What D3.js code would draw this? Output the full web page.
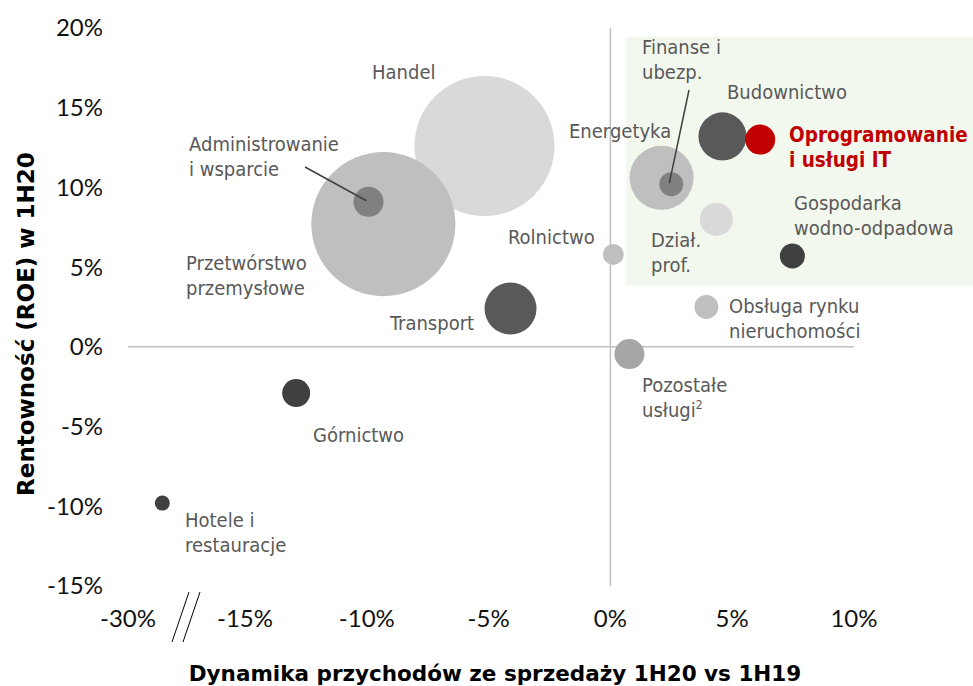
<!DOCTYPE html>
<html>
<head>
<meta charset="utf-8">
<script src="https://cdn.jsdelivr.net/npm/d3@7"></script>
<style>
  body { margin: 0; background: #fff; }
  .tick-label { font-family: Lato, "Open Sans", sans-serif; font-size: 24px; fill: #111; }
  .lbl { font-family: "DejaVu Sans Condensed", "DejaVu Sans", sans-serif; font-size: 20px; fill: #595959; }
  .lbl.hl { fill: #c00000; font-weight: bold; font-size: 20.5px; }
  .axis-title { font-family: "DejaVu Sans", sans-serif; font-weight: bold; font-size: 21.5px; fill: #000; }
</style>
</head>
<body>
<div id="chart"></div>
<script>
// sectors: revenue dynamics (x, %), ROE (y, %), bubble size (relative)
const sectors = ["Handel", "Przetwórstwo przemysłowe", "Administrowanie i wsparcie", "Transport",
  "Rolnictwo", "Energetyka", "Finanse i ubezp.", "Budownictwo", "Oprogramowanie i usługi IT",
  "Dział. prof.", "Gospodarka wodno-odpadowa", "Obsługa rynku nieruchomości", "Pozostałe usługi",
  "Górnictwo", "Hotele i restauracje"];
const growth = [-5.17, -9.32, -9.93, -4.1, 0.12, 2.1, 2.5, 4.6, 6.15, 4.35, 7.47, 3.94, 0.78, -12.9, -25.6];
const roe    = [12.6, 7.7, 9.1, 2.4, 5.8, 10.6, 10.2, 13.2, 13.0, 8.0, 5.7, 2.5, -0.45, -2.9, -9.8];
const size   = [100, 106, 4.6, 13.8, 2.25, 20.9, 2.9, 11.8, 4.6, 5.6, 3.2, 2.9, 4.6, 4.0, 1.15];
const colors = ["#d9d9d9", "#bfbfbf", "#808080", "#595959", "#bfbfbf", "#bfbfbf", "#808080", "#595959",
  "#c00000", "#d9d9d9", "#404040", "#bfbfbf", "#a6a6a6", "#404040", "#404040"];

const xTicks = [-30, -15, -10, -5, 0, 5, 10];
const yTicks = [-15, -10, -5, 0, 5, 10, 15, 20];

// label layout: text lines, anchor in px
const labels = [
  { i: 0,  lines: ["Handel"], x: 372, y: 79 },
  { i: 1,  lines: ["Przetwórstwo", "przemysłowe"], x: 186, y: 270 },
  { i: 2,  lines: ["Administrowanie", "i wsparcie"], x: 189, y: 151, leader: [305, 167] },
  { i: 3,  lines: ["Transport"], x: 390, y: 330 },
  { i: 4,  lines: ["Rolnictwo"], x: 508, y: 244 },
  { i: 5,  lines: ["Energetyka"], x: 569, y: 138 },
  { i: 6,  lines: ["Finanse i", "ubezp."], x: 642, y: 54, leader: [689, 90] },
  { i: 7,  lines: ["Budownictwo"], x: 727, y: 99 },
  { i: 8,  lines: ["Oprogramowanie", "i usługi IT"], x: 789, y: 142, hl: true },
  { i: 9,  lines: ["Dział.", "prof."], x: 651, y: 247 },
  { i: 10, lines: ["Gospodarka", "wodno-odpadowa"], x: 794, y: 210 },
  { i: 11, lines: ["Obsługa rynku", "nieruchomości"], x: 729, y: 313 },
  { i: 12, lines: ["Pozostałe", "usługi"], x: 642, y: 392, sup: "2" },
  { i: 13, lines: ["Górnictwo"], x: 313, y: 442 },
  { i: 14, lines: ["Hotele i", "restauracje"], x: 185, y: 527 }
];

const width = 973, height = 686;

const x = d3.scaleLinear().domain([-30, -15, 10]).range([128, 245, 854]);
const y = d3.scaleLinear().domain([-15, 20]).range([586, 28]);
const r = d3.scaleSqrt().domain([0, 100]).range([0, 70]);

const svg = d3.select("#chart").append("svg")
  .attr("width", width)
  .attr("height", height);

// highlighted quadrant
svg.append("rect")
  .attr("x", x(0.65))
  .attr("y", y(19.45))
  .attr("width", width - x(0.65))
  .attr("height", y(3.85) - y(19.45))
  .attr("fill", "#f3f8ee");

// axis lines
svg.append("line")
  .attr("x1", x(-30)).attr("x2", x(10))
  .attr("y1", y(0)).attr("y2", y(0))
  .attr("stroke", "#bfbfbf").attr("stroke-width", 1.5);
svg.append("line")
  .attr("x1", x(0)).attr("x2", x(0))
  .attr("y1", y(20)).attr("y2", y(-15))
  .attr("stroke", "#bfbfbf").attr("stroke-width", 1.5);

// tick labels
svg.append("g").selectAll("text")
  .data(yTicks)
  .join("text")
  .attr("class", "tick-label")
  .attr("x", 103)
  .attr("y", d => y(d))
  .attr("dy", "0.35em")
  .attr("text-anchor", "end")
  .text(d => d + "%");

svg.append("g").selectAll("text")
  .data(xTicks)
  .join("text")
  .attr("class", "tick-label")
  .attr("x", d => x(d))
  .attr("y", 627)
  .attr("text-anchor", "middle")
  .text(d => d + "%");

// axis break
svg.append("g").selectAll("line")
  .data([0, 11])
  .join("line")
  .attr("x1", d => 172 + d).attr("y1", 642)
  .attr("x2", d => 189 + d).attr("y2", 592)
  .attr("stroke", "#000").attr("stroke-width", 1);

// bubbles
const points = sectors.map((s, i) => ({ name: s, gx: growth[i], roe: roe[i], size: size[i], color: colors[i] }));

svg.append("g").selectAll("circle")
  .data(points)
  .join("circle")
  .attr("cx", d => x(d.gx))
  .attr("cy", d => y(d.roe))
  .attr("r", d => r(d.size))
  .attr("fill", d => d.color);

// leaders
labels.filter(l => l.leader).forEach(l => {
  const p = points[l.i];
  svg.append("line")
    .attr("x1", l.leader[0]).attr("y1", l.leader[1])
    .attr("x2", x(p.gx) - 2).attr("y2", y(p.roe) - 1)
    .attr("stroke", "#404040").attr("stroke-width", 1.5);
});

// labels
labels.forEach(l => {
  const t = svg.append("text")
    .attr("class", l.hl ? "lbl hl" : "lbl")
    .attr("x", l.x)
    .attr("y", l.y);
  l.lines.forEach((line, k) => {
    t.append("tspan")
      .attr("x", l.x)
      .attr("dy", k === 0 ? 0 : 25)
      .text(line);
  });
  if (l.sup) {
    t.append("tspan")
      .style("font-size", "12px")
      .attr("dy", -8)
      .text(l.sup);
  }
});

// axis titles
svg.append("text")
  .attr("class", "axis-title")
  .attr("x", 495)
  .attr("y", 681)
  .attr("text-anchor", "middle")
  .text("Dynamika przychodów ze sprzedaży 1H20 vs 1H19");

svg.append("text")
  .attr("class", "axis-title")
  .style("font-size", "23px")
  .attr("transform", "translate(34,324) rotate(-90)")
  .attr("text-anchor", "middle")
  .text("Rentowność (ROE) w 1H20");
</script>
</body>
</html>
